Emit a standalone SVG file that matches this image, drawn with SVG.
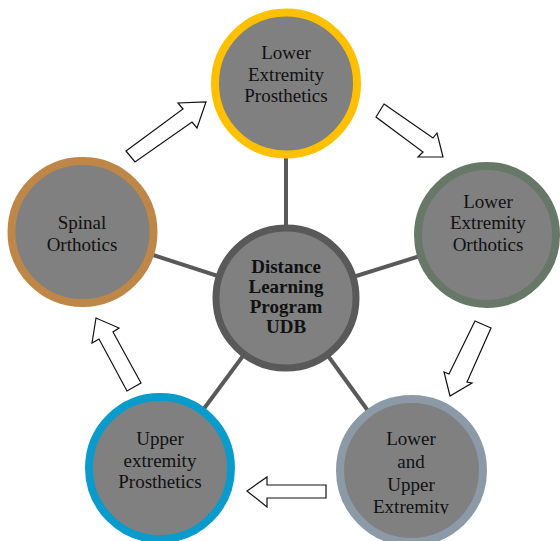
<svg xmlns="http://www.w3.org/2000/svg" width="560" height="541" viewBox="0 0 560 541">
<defs>
<style>
.n{fill:#808080;stroke-width:8}
.t{font-family:"Liberation Serif","Times New Roman",serif;font-size:19px;fill:#111;text-anchor:middle}
.b{font-family:"Liberation Serif","Times New Roman",serif;font-size:19px;font-weight:bold;fill:#111;text-anchor:middle}
.c{stroke:#595959;stroke-width:4;fill:none}
.a{fill:#fff;stroke:#111;stroke-width:1.2;stroke-linejoin:miter}
</style>
<clipPath id="clipBR"><rect x="330" y="390" width="170" height="124"/></clipPath>
</defs>
<rect width="560" height="541" fill="#fff"/>
<g id="connectors">
<line class="c" x1="286" y1="298" x2="286" y2="83"/>
<line class="c" x1="286" y1="298" x2="487" y2="235"/>
<line class="c" x1="286" y1="298" x2="411" y2="470"/>
<line class="c" x1="286" y1="298" x2="160" y2="468"/>
<line class="c" x1="286" y1="298" x2="82" y2="232"/>
<polygon class="a" points="126,151 183,109 178,103 206,102 197,128 192,122 135,162"/>
<polygon class="a" points="384,104 433,138 437,133 443,157 418,157 423,152 376,117"/>
<polygon class="a" points="475,321 491,328 467,382 472,383 450,396 444,372 449,374"/>
<polygon class="a" points="326,485 267,485 267,477 247,491 267,507 267,498 326,498"/>
<polygon class="a" points="141,383 113,332 119,328 96,318 92,343 99,339 127,391"/>
</g>
<g id="center">
<circle cx="286" cy="298" r="70" fill="#808080" stroke="#595959" stroke-width="7"/>
<text class="b" x="286" y="273">Distance</text>
<text class="b" x="286" y="293">Learning</text>
<text class="b" x="286" y="313">Program</text>
<text class="b" x="286" y="333">UDB</text>
</g>
<g id="top">
<circle class="n" cx="286" cy="83.5" r="71" stroke="#FFC000"/>
<text class="t" x="286" y="59">Lower</text>
<text class="t" x="286" y="81">Extremity</text>
<text class="t" x="286" y="102">Prosthetics</text>
</g>
<g id="right">
<circle class="n" cx="487" cy="235" r="69" stroke="#687868"/>
<text class="t" x="488" y="208">Lower</text>
<text class="t" x="488" y="229">Extremity</text>
<text class="t" x="488" y="251">Orthotics</text>
</g>
<g id="bottomright">
<circle class="n" cx="411.5" cy="470.5" r="71.5" stroke="#8C99A6"/>
<g clip-path="url(#clipBR)">
<text class="t" x="411" y="445">Lower</text>
<text class="t" x="411" y="468">and</text>
<text class="t" x="411" y="491">Upper</text>
<text class="t" x="411" y="513">Extremity</text>
</g>
</g>
<g id="bottomleft">
<circle class="n" cx="160" cy="468" r="71" stroke="#0A9BCD"/>
<text class="t" x="160" y="445">Upper</text>
<text class="t" x="160" y="467">extremity</text>
<text class="t" x="160" y="488">Prosthetics</text>
</g>
<g id="left">
<circle class="n" cx="82.5" cy="232" r="71" stroke="#BE8748"/>
<text class="t" x="82" y="229">Spinal</text>
<text class="t" x="82" y="251">Orthotics</text>
</g>
</svg>
